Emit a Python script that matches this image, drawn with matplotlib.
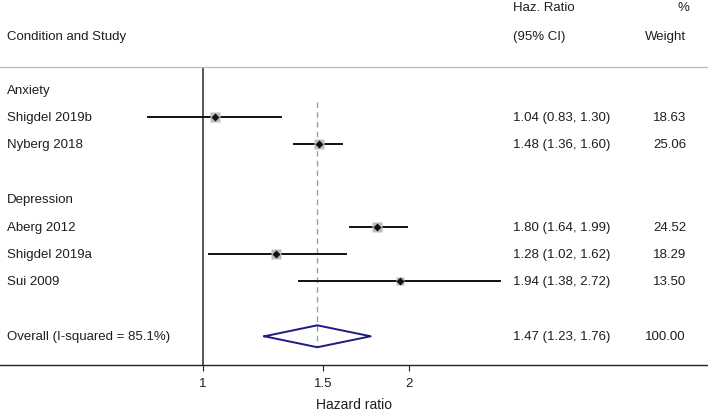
import matplotlib.pyplot as plt
import matplotlib.ticker as mticker
import numpy as np

plt.rcParams["font.family"] = ["Liberation Sans", "DejaVu Sans"]

groups = ["Anxiety", "Depression"]
group_rows = [0, 4]
studies = ["Shigdel 2019b", "Nyberg 2018", "Aberg 2012", "Shigdel 2019a", "Sui 2009"]
study_rows = [1, 2, 5, 6, 7]
hr = [1.04, 1.48, 1.80, 1.28, 1.94]
lo = [0.83, 1.36, 1.64, 1.02, 1.38]
hi = [1.30, 1.60, 1.99, 1.62, 2.72]
weight = [18.63, 25.06, 24.52, 18.29, 13.50]

overall_label = "Overall (I-squared = 85.1%)"
overall_row = 9
overall_hr, overall_lo, overall_hi = 1.47, 1.23, 1.76

txt = "#1e1e1e"

fig = plt.figure(figsize=(7.08, 4.14), dpi=100)
ax = fig.add_axes([0, 48.5/414, 1, 297.5/414])
ax.set_xscale("log")
ax.set_xlim(0.5043, 5.488)
ax.set_ylim(10.03, -0.828)
tr = ax.get_yaxis_transform()

# no-effect line and overall dashed line
ax.axvline(1, color="#3a3a3a", lw=1.2, zorder=1)
ax.plot([overall_hr]*2, [0.45, overall_row + 0.4], color="#8ea6a6",
        lw=1.0, ls=(0, (4, 3)), zorder=1)

for name, r, h, l, u, w in zip(studies, study_rows, hr, lo, hi, weight):
    ax.plot([l, u], [r, r], color="#111111", lw=1.4, zorder=2)
    ax.plot(h, r, "s", ms=1.55*np.sqrt(w), color="#bdbdbd", mec="none", zorder=3)
    ax.plot(h, r, "D", ms=3.8, color="#111111", mec="none", zorder=4)
    ax.text(7/708, r, name, transform=tr, ha="left", va="center", fontsize=9.5, color=txt)
    ax.text(513/708, r, "%.2f (%.2f, %.2f)" % (h, l, u), transform=tr,
            ha="left", va="center", fontsize=9.5, color=txt)
    ax.text(686/708, r, "%.2f" % w, transform=tr,
            ha="right", va="center", fontsize=9.5, color=txt)

for g, r in zip(groups, group_rows):
    ax.text(7/708, r, g, transform=tr, ha="left", va="center", fontsize=9.5, color=txt)

# pooled estimate diamond
dx = [overall_lo, overall_hr, overall_hi, overall_hr, overall_lo]
dy = [overall_row, overall_row - 0.4, overall_row, overall_row + 0.4, overall_row]
ax.plot(dx, dy, color="#1c1c80", lw=1.4, zorder=3)
ax.text(7/708, overall_row, overall_label, transform=tr,
        ha="left", va="center", fontsize=9.5, color=txt)
ax.text(513/708, overall_row, "%.2f (%.2f, %.2f)" % (overall_hr, overall_lo, overall_hi),
        transform=tr, ha="left", va="center", fontsize=9.5, color=txt)
ax.text(686/708, overall_row, "100.00", transform=tr,
        ha="right", va="center", fontsize=9.5, color=txt)

# column headers
ax.text(7/708, -1.96, "Condition and Study", transform=tr, ha="left", va="center",
        fontsize=9.5, color=txt, clip_on=False)
ax.text(513/708, -3.0, "Haz. Ratio", transform=tr, ha="left", va="center",
        fontsize=9.5, color=txt, clip_on=False)
ax.text(513/708, -1.96, "(95% CI)", transform=tr, ha="left", va="center",
        fontsize=9.5, color=txt, clip_on=False)
ax.text(689/708, -3.0, "%", transform=tr, ha="right", va="center",
        fontsize=9.5, color=txt, clip_on=False)
ax.text(686/708, -1.96, "Weight", transform=tr, ha="right", va="center",
        fontsize=9.5, color=txt, clip_on=False)

ax.spines["left"].set_visible(False)
ax.spines["right"].set_visible(False)
ax.spines["top"].set_color("#bbbbbb")
ax.spines["top"].set_linewidth(0.9)
ax.spines["bottom"].set_color("#222222")
ax.spines["bottom"].set_linewidth(1.0)

ax.set_yticks([])
ax.xaxis.set_major_locator(mticker.FixedLocator([1, 1.5, 2]))
ax.xaxis.set_major_formatter(mticker.FixedFormatter(["1", "1.5", "2"]))
ax.xaxis.set_minor_locator(mticker.NullLocator())
ax.tick_params(axis="x", length=4, width=0.8, color="#222222", labelsize=9.5,
               labelcolor=txt, pad=5)
ax.set_xlabel("Hazard ratio", fontsize=10, color=txt, labelpad=6)

fig.savefig("out.png", dpi=100)
